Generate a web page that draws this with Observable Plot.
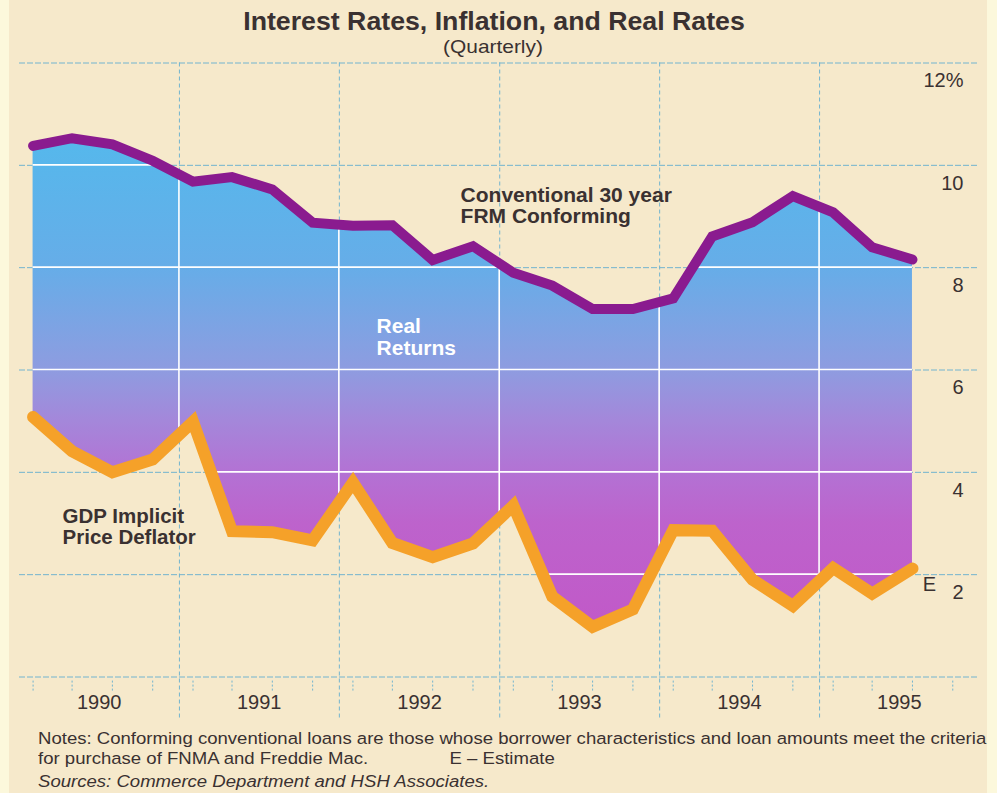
<!DOCTYPE html>
<html>
<head>
<meta charset="utf-8">
<script src="https://cdn.jsdelivr.net/npm/d3@7"></script>
<script src="https://cdn.jsdelivr.net/npm/@observablehq/plot@0.6"></script>
<style>
  html, body { margin: 0; padding: 0; overflow: hidden; background: #fcf8dc; }
  #page { position: relative; width: 997px; height: 793px; font-family: "Liberation Sans", Arial, Helvetica, sans-serif; color: #3a3131; }
  #panel { position: absolute; left: 9px; top: 0; width: 978px; height: 793px; background: #f6e9cb; }
  #title { position: absolute; left: 0; top: 7px; width: 988px; text-align: center; font-weight: bold; font-size: 25px; line-height: 28px; transform: scaleX(1.068); transform-origin: 494px 50%; }
  #subtitle { position: absolute; left: 0; top: 36px; width: 986px; text-align: center; font-size: 19px; line-height: 22px; transform: scaleX(1.1); transform-origin: 493px 50%; }
  #chart { position: absolute; left: 0; top: 55px; }
  #notes { position: absolute; left: 38px; top: 728px; font-size: 17.2px; line-height: 20px; white-space: nowrap; transform: scaleX(1.08); transform-origin: 0 0; }
  #notes .line { position: relative; }
  #notes .est { position: absolute; left: 381px; top: 0; }
  #sources { position: absolute; left: 38px; top: 771px; font-size: 17.2px; line-height: 20px; font-style: italic; white-space: nowrap; transform: scaleX(1.08); transform-origin: 0 0; }
</style>
</head>
<body>
<div id="page">
  <div id="panel"></div>
  <div id="title">Interest Rates, Inflation, and Real Rates</div>
  <div id="subtitle">(Quarterly)</div>
  <div id="chart"></div>
  <div id="notes">
    <div class="line">Notes: Conforming conventional loans are those whose borrower characteristics and loan amounts meet the criteria</div>
    <div class="line">for purchase of FNMA and Freddie Mac.<span class="est">E – Estimate</span></div>
  </div>
  <div id="sources">Sources: Commerce Department and HSH Associates.</div>
</div>
<script>
// ---- data (percent) ----
const periods = [
  "1990 Q1", "1990 Q2", "1990 Q3", "1990 Q4",
  "1991 Q1", "1991 Q2", "1991 Q3", "1991 Q4",
  "1992 Q1", "1992 Q2", "1992 Q3", "1992 Q4",
  "1993 Q1", "1993 Q2", "1993 Q3", "1993 Q4",
  "1994 Q1", "1994 Q2", "1994 Q3", "1994 Q4",
  "1995 Q1", "1995 Q2", "1995 Q3"
];
const mortgageRate = [
  10.38, 10.53, 10.41, 10.09,
  9.68, 9.77, 9.53, 8.88,
  8.82, 8.83, 8.15, 8.42,
  7.90, 7.65, 7.19, 7.19,
  7.40, 8.61, 8.89, 9.40,
  9.08, 8.40, 8.16
];
const gdpDeflator = [
  5.08, 4.41, 4.00, 4.25,
  4.99, 2.85, 2.83, 2.67,
  3.80, 2.62, 2.34, 2.61,
  3.35, 1.57, 0.98, 1.32,
  2.87, 2.86, 1.90, 1.39,
  2.13, 1.63, 2.12
];
const yearLabels = ["1990", "1991", "1992", "1993", "1994", "1995"];
const gridValues = [0, 2, 4, 6, 8, 10, 12];
const yTickValues = [2, 4, 6, 8, 10, 12];
const quarterNames = ["Q1", "Q2", "Q3", "Q4"];

// quarterly values plotted at the start of each quarter's middle month
const quarterDate = (year, q) => new Date(Date.UTC(year, 3 * (q - 1) + 1, 1));
const decimalYear = v => new Date(Date.UTC(1990, 0, 1) + (v - 1990) * 365.25 * 864e5);

const rows = periods.map((p, i) => ({
  date: quarterDate(+p.slice(0, 4), +p.slice(6)),
  mortgage: mortgageRate[i],
  deflator: gdpDeflator[i]
}));
const tickDates = yearLabels.flatMap(y => quarterNames.map((q, j) => quarterDate(+y, j + 1)));
const yearStarts = yearLabels.slice(1).map(y => new Date(Date.UTC(+y, 0, 1)));

const dark = "#3a3131";
const gridBlue = "#72b4cf";

function gradientDefs(index, scales) {
  const y = scales.y;
  const defs = d3.create("svg:defs");
  const stops = [
    [10.5, "#55b8ec"], [8, "#66ade8"], [6, "#8e9ce0"], [5, "#a487da"],
    [4, "#b372d4"], [3, "#bd63cc"], [1, "#c159c8"]
  ];
  const y1 = y(stops[0][0]), y2 = y(stops[stops.length - 1][0]);
  const lg = defs.append("linearGradient").attr("id", "rr-grad")
    .attr("gradientUnits", "userSpaceOnUse")
    .attr("x1", 0).attr("x2", 0).attr("y1", y1).attr("y2", y2);
  for (const [v, c] of stops) {
    lg.append("stop").attr("offset", (y(v) - y1) / (y2 - y1)).attr("stop-color", c);
  }
  return defs.node();
}

function whiteGrid(index, scales, values, dimensions) {
  const {x, y} = scales;
  const {width, marginLeft, marginRight} = dimensions;
  const g = d3.create("svg:g");
  const area = d3.area().x(d => x(d.date)).y0(d => y(d.deflator)).y1(d => y(d.mortgage));
  g.append("clipPath").attr("id", "rr-clip").append("path").attr("d", area(rows));
  const inner = g.append("g").attr("clip-path", "url(#rr-clip)")
    .attr("stroke", "#ffffff").attr("stroke-width", 1.6);
  for (const v of gridValues) {
    inner.append("line").attr("x1", marginLeft).attr("x2", width - marginRight)
      .attr("y1", y(v)).attr("y2", y(v));
  }
  for (const d of yearStarts) {
    inner.append("line").attr("x1", x(d)).attr("x2", x(d))
      .attr("y1", y(12)).attr("y2", y(0));
  }
  return g.node();
}

const chart = Plot.plot({
  width: 997,
  height: 672,
  marginLeft: 19,
  marginRight: 18,
  marginTop: 7.5,
  marginBottom: 50.5,
  x: {type: "utc", domain: [new Date(Date.UTC(1990, 0, 1)), new Date(Date.UTC(1996, 0, 1))], axis: null},
  y: {domain: [0, 12], axis: null},
  style: {background: "transparent", fontFamily: "'Liberation Sans', Arial, Helvetica, sans-serif", color: dark, overflow: "visible"},
  marks: [
    gradientDefs,
    Plot.ruleY(gridValues, {stroke: gridBlue, strokeWidth: 1, strokeDasharray: "6,2"}),
    Plot.ruleX(yearStarts, {y1: 12, y2: -0.85, stroke: gridBlue, strokeWidth: 1, strokeDasharray: "4,3"}),
    Plot.ruleX(tickDates, {y1: -0.08, y2: -0.28, stroke: gridBlue, strokeWidth: 1, strokeDasharray: "2,2"}),
    Plot.areaY(rows, {x: "date", y1: "deflator", y2: "mortgage", fill: "url(#rr-grad)"}),
    whiteGrid,
    Plot.line(rows, {x: "date", y: "mortgage", stroke: "#8a1b8f", strokeWidth: 10, strokeLinejoin: "miter", strokeMiterlimit: 6}),
    Plot.line(rows, {x: "date", y: "deflator", stroke: "#f5a129", strokeWidth: 12, strokeLinejoin: "miter", strokeMiterlimit: 6}),
    Plot.text(yTickValues, {y: d => d, frameAnchor: "right", text: d => d === 12 ? "12%" : String(d), textAnchor: "end", dx: -16, dy: 18, fontSize: 20, fill: dark}),
    Plot.text(yearLabels, {x: d => new Date(Date.UTC(+d, 6, 2)), frameAnchor: "bottom", text: d => d, dy: 31.5, fontSize: 20, fill: dark}),
    Plot.text(["Conventional 30 year\nFRM Conforming"], {x: () => decimalYear(1992.756), y: () => 9.21, text: d => d, textAnchor: "start", fontSize: 21, fontWeight: "bold", lineHeight: 1.0, fill: dark}),
    Plot.text(["Real\nReturns"], {x: () => decimalYear(1992.231), y: () => 6.65, text: d => d, textAnchor: "start", fontSize: 21, fontWeight: "bold", lineHeight: 1.05, fill: "#ffffff"}),
    Plot.text(["GDP Implicit\nPrice Deflator"], {x: () => decimalYear(1990.269), y: () => 2.93, text: d => d, textAnchor: "start", fontSize: 20.5, fontWeight: "bold", lineHeight: 1.03, fill: dark}),
    Plot.text(["E"], {x: () => decimalYear(1995.644), y: () => 1.81, text: d => d, textAnchor: "start", fontSize: 20, fill: dark})
  ]
});
document.getElementById("chart").appendChild(chart);
</script>
</body>
</html>
